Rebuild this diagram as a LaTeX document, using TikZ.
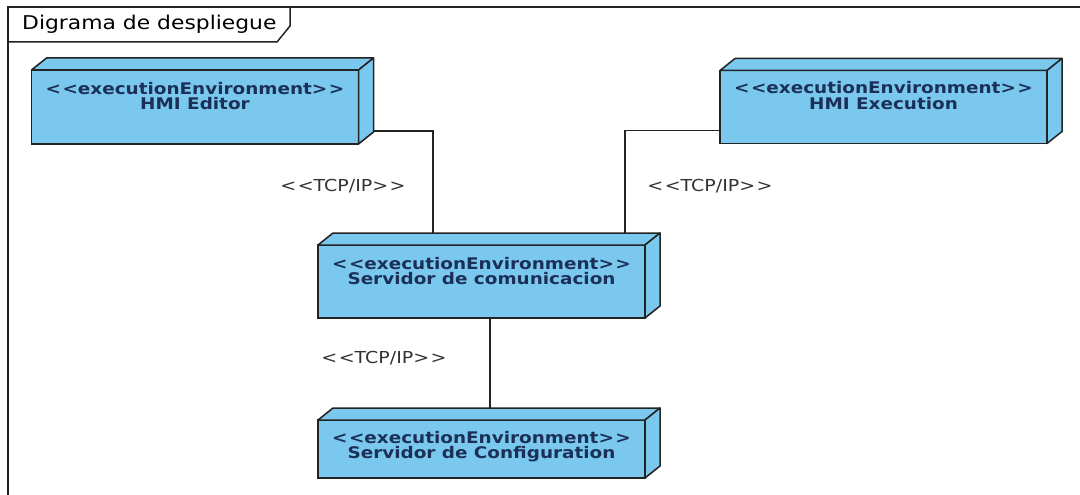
\documentclass[tikz,border=0pt]{standalone}
\usepackage{fontspec}
\setmainfont{DejaVu Sans}[FakeStretch=1.15]
\usetikzlibrary{calc}
\definecolor{nodefill}{RGB}{122,200,238}
\definecolor{nodetext}{RGB}{27,47,87}
\definecolor{edgecol}{RGB}{35,35,35}
\newcommand{\llt}{<\kern1.5pt<}
\newcommand{\ggt}{>\kern1.5pt>}
\newcommand{\boxfaces}[1]{%
  \path[face] (#1.north west) -- ($(#1.north west)+(15,-12)$) -- ($(#1.north east)+(15,-12)$) -- (#1.north east) -- cycle;
  \path[face] (#1.north east) -- ($(#1.north east)+(15,-12)$) -- ($(#1.south east)+(15,-12)$) -- (#1.south east) -- cycle;
}
\begin{document}
\begin{tikzpicture}[x=1pt,y=-1pt,
  front/.style={draw=edgecol, fill=nodefill, line width=1.5pt, minimum width=327pt, inner sep=0pt, outer sep=0pt},
  face/.style={draw=edgecol, fill=nodefill, line width=1.5pt, line join=round},
  ntext/.style={align=center, font=\bfseries\fontsize{16}{15.5}\selectfont, text=nodetext, inner sep=0pt, anchor=north},
  conn/.style={draw=edgecol, line width=1.2pt},
  stereo/.style={font=\fontsize{16.5}{18}\selectfont, text=black!80, inner sep=0pt},
  frameline/.style={draw=edgecol, line width=1.5pt}
]
\useasboundingbox[fill=white] (0,0) rectangle (1080,495);

% frame
\draw[frameline] (1082,7) -- (8,7) -- (8,497);
\draw[frameline] (290,7) -- (290,26) -- (277,42) -- (8,42);
\node[font=\fontsize{19}{21}\selectfont, anchor=base west, inner sep=0pt] (title) at (22,30) {Digrama de despliegue};

% nodes
\node[front, minimum height=74pt] (ed) at (195,107) {};
\boxfaces{ed}
\node[ntext] (ed-t) at ($(ed.north)+(0,12)$) {\llt executionEnvironment\ggt\\HMI Editor};

\node[front, minimum height=73pt] (exe) at (883.5,107) {};
\boxfaces{exe}
\node[ntext] (exe-t) at ($(exe.north)+(0,11)$) {\llt executionEnvironment\ggt\\HMI Execution};

\node[front, minimum height=73pt] (com) at (481.5,281.5) {};
\boxfaces{com}
\node[ntext] (com-t) at ($(com.north)+(0,12)$) {\llt executionEnvironment\ggt\\Servidor de comunicacion};

\node[front, minimum height=58pt] (cfg) at (481.5,449) {};
\boxfaces{cfg}
\node[ntext] (cfg-t) at ($(cfg.north)+(0,11)$) {\llt executionEnvironment\ggt\\Servidor de Configuration};

% connectors
\draw[conn] ($(ed.south east)+(15,-13)$) -| ($(com.north)+(-48.5,-12)$);
\draw[conn] ($(exe.south west)+(0,-13)$) -| ($(com.north)+(143.5,-12)$);
\draw[conn] ($(com.south)+(8.5,0)$) -- ($(cfg.north)+(8.5,-12)$);

% labels
\node[stereo] (l1) at (343,186) {\llt TCP/IP\ggt};
\node[stereo] (l2) at (710,186) {\llt TCP/IP\ggt};
\node[stereo] (l3) at (384,358) {\llt TCP/IP\ggt};
\end{tikzpicture}
\end{document}
